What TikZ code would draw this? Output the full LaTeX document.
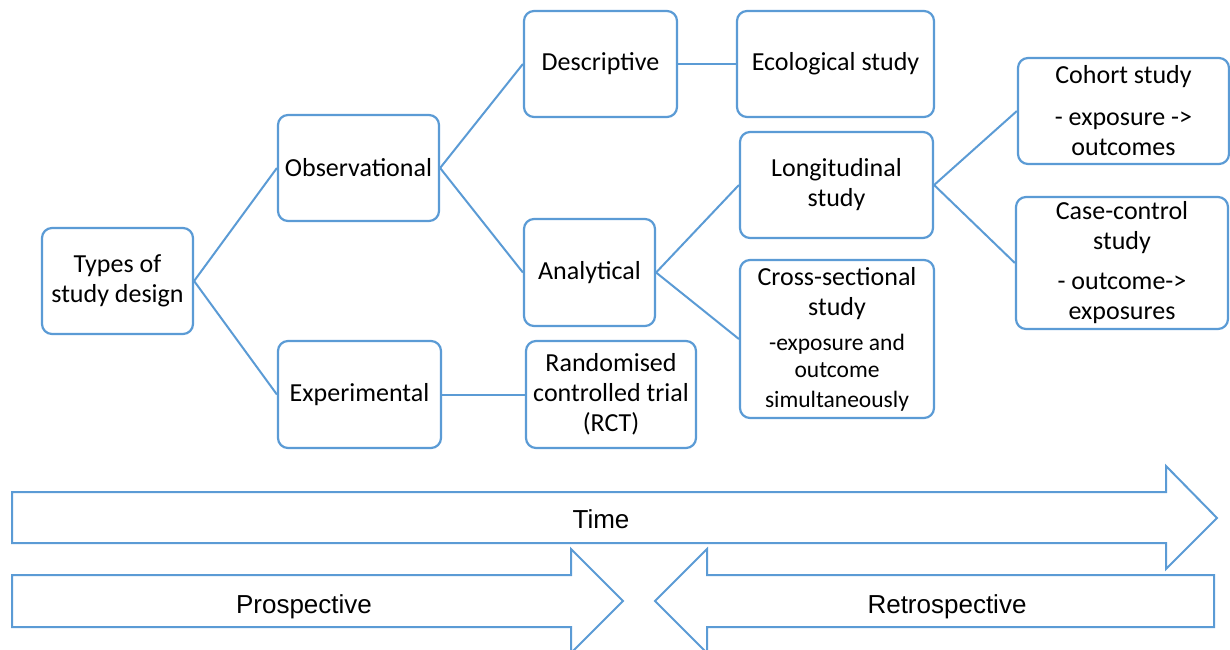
\documentclass[tikz,border=0pt]{standalone}
\usepackage{fontspec}
\setmainfont{Carlito}
\newfontfamily\arrowfont{Liberation Sans}
\definecolor{smartblue}{RGB}{91,155,213}

\begin{document}
\begin{tikzpicture}[x=1pt, y=-1pt,
  stage/.style 2 args={draw=smartblue, line width=2.2pt, rounded corners=10pt, align=flush center,
    inner sep=0pt, text width=#1, minimum height=#2, font=\fontsize{26}{30}\selectfont},
  link/.style={draw=smartblue, line width=2pt},
  band/.style={draw=smartblue, line width=2pt, line join=miter},
  bandtext/.style={anchor=base, inner sep=0pt, font=\arrowfont\fontsize{26}{30}\selectfont}]

\useasboundingbox (0,0) rectangle (1230,649);

% Study designs
\node[stage={151pt}{106pt}] (types) at (117.5,281) {Types of\\study design};
\node[stage={161pt}{106pt}] (obs) at (358.5,168) {Observational};
\node[stage={163pt}{107pt}] (expt) at (359.5,394.5) {Experimental};
\node[stage={153pt}{106pt}] (desc) at (600.5,64) {Descriptive};
\node[stage={131pt}{107pt}] (anal) at (589.5,272.5) {Analytical};
\node[stage={170pt}{107pt}] (rct) at (611,394.5) {Randomised\\controlled trial\\(RCT)};
\node[stage={197pt}{106pt}] (eco) at (835.5,64) {Ecological study};
\node[stage={193pt}{106pt}] (longi) at (836.5,185) {Longitudinal\\study};
\node[stage={194pt}{158pt}] (cross) at (837,339)
  {Cross-sectional\\study\par\vspace{9pt}\fontsize{23.5}{26.5}\selectfont -exposure and\\outcome\\simultaneously};
\node[stage={211pt}{106pt}] (cohort) at (1123.5,111) {Cohort study\par\vspace{12pt}- exposure ->\\outcomes};
\node[stage={212pt}{132pt}] (casectl) at (1122,263) {Case-control\\study\par\vspace{10pt}- outcome->\\exposures};

% Branches
\draw[link] (types.east) -- (obs.west);
\draw[link] (types.east) -- (expt.west);
\draw[link] (obs.east) -- (desc.west);
\draw[link] (obs.east) -- (anal.west);
\draw[link] (desc.east) -- (eco.west);
\draw[link] (expt.east) -- (rct.west);
\draw[link] (anal.east) -- (longi.west);
\draw[link] (anal.east) -- (cross.west);
\draw[link] (longi.east) -- (cohort.west);
\draw[link] (longi.east) -- (casectl.west);

% Time arrows
\draw[band] (12,492) -- (1166,492) -- (1166,466) -- (1217,518) -- (1166,569) -- (1166,543) -- (12,543) -- cycle;
\node[bandtext] (time) at (601,528) {Time};
\draw[band] (12,575) -- (571,575) -- (571,549) -- (623,601) -- (571,653) -- (571,627) -- (12,627) -- cycle;
\node[bandtext] (pro) at (304,613) {Prospective};
\draw[band] (1214,575) -- (707,575) -- (707,549) -- (655,601) -- (707,653) -- (707,627) -- (1214,627) -- cycle;
\node[bandtext] (retro) at (947,613) {Retrospective};
\end{tikzpicture}
\end{document}
